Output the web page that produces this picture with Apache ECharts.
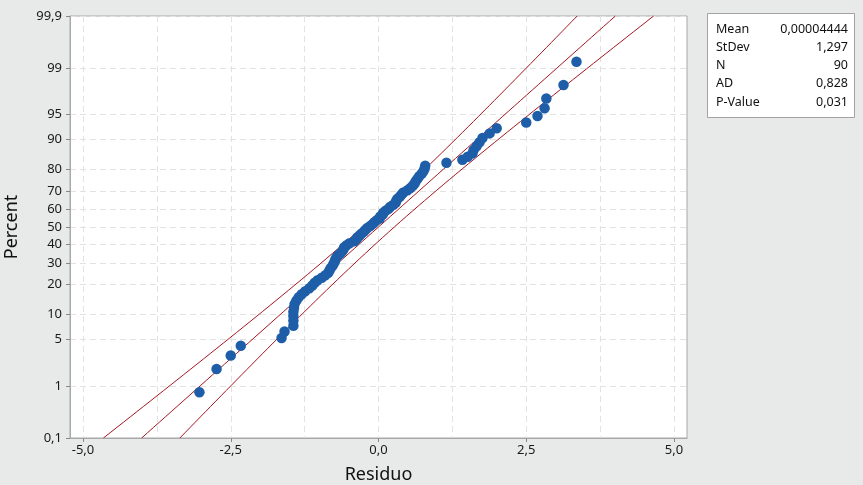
<!DOCTYPE html>
<html>
<head>
<meta charset="utf-8">
<script src="https://cdn.jsdelivr.net/npm/echarts@6/dist/echarts.min.js"></script>
<style>
  html, body { margin: 0; padding: 0; background: #e8e9e9; }
  #chart { width: 863px; height: 485px; }
</style>
</head>
<body>
<div id="chart"></div>
<script>
// residuals, sorted
var residuals = [
    -3.03, -2.74, -2.50, -2.33, -1.64, -1.59, -1.44, -1.44, -1.44, -1.44,
    -1.43, -1.42, -1.39, -1.35, -1.30, -1.24, -1.17, -1.12, -1.08, -1.03,
    -0.96, -0.90, -0.85, -0.83, -0.81, -0.78, -0.76, -0.74, -0.73, -0.71,
    -0.68, -0.64, -0.61, -0.59, -0.58, -0.54, -0.49, -0.41, -0.37, -0.36,
    -0.32, -0.29, -0.25, -0.22, -0.19, -0.14, -0.10, -0.07, -0.03, 0.02,
    0.03, 0.07, 0.08, 0.12, 0.17, 0.20, 0.25, 0.29, 0.30, 0.32,
    0.36, 0.39, 0.42, 0.49, 0.54, 0.58, 0.61, 0.63, 0.66, 0.69,
    0.73, 0.76, 0.78, 0.79, 1.15, 1.42, 1.51, 1.59, 1.61, 1.66,
    1.71, 1.76, 1.88, 2.00, 2.50, 2.69, 2.81, 2.84, 3.13, 3.35
];

var percentTicks = [0.1, 1, 5, 10, 20, 30, 40, 50, 60, 70, 80, 90, 95, 99, 99.9];
var percentLabels = ['0,1', '1', '5', '10', '20', '30', '40', '50', '60', '70', '80', '90', '95', '99', '99,9'];
var xLabelValues = [-5, -2.5, 0, 2.5, 5];
var xLabelTexts = ['-5,0', '-2,5', '0,0', '2,5', '5,0'];
var xGridValues = [-5, -3.75, -2.5, -1.25, 0, 1.25, 2.5, 3.75, 5];

var statLabels = ['Mean', 'StDev', 'N', 'AD', 'P-Value'];
var statValues = ['0,00004444', '1,297', '90', '0,828', '0,031'];
var fitMean = 0.00004444;
var fitStDev = 1.297;
var fitN = 90;

// inverse normal cdf (Acklam)
function normInv(p) {
    var a = [-3.969683028665376e+01, 2.209460984245205e+02, -2.759285104469687e+02, 1.383577518672690e+02, -3.066479806614716e+01, 2.506628277459239e+00];
    var b = [-5.447609879822406e+01, 1.615858368580409e+02, -1.556989798598866e+02, 6.680131188771972e+01, -1.328068155288572e+01];
    var c = [-7.784894002430293e-03, -3.223964580411365e-01, -2.400758277161838e+00, -2.549732539343734e+00, 4.374664141464968e+00, 2.938163982698783e+00];
    var d = [7.784695709041462e-03, 3.224671290700398e-01, 2.445134137142996e+00, 3.754408661907416e+00];
    var q, r;
    if (p < 0.02425) {
        q = Math.sqrt(-2 * Math.log(p));
        return (((((c[0]*q+c[1])*q+c[2])*q+c[3])*q+c[4])*q+c[5]) / ((((d[0]*q+d[1])*q+d[2])*q+d[3])*q+1);
    }
    if (p > 1 - 0.02425) {
        q = Math.sqrt(-2 * Math.log(1 - p));
        return -(((((c[0]*q+c[1])*q+c[2])*q+c[3])*q+c[4])*q+c[5]) / ((((d[0]*q+d[1])*q+d[2])*q+d[3])*q+1);
    }
    q = p - 0.5;
    r = q * q;
    return (((((a[0]*r+a[1])*r+a[2])*r+a[3])*r+a[4])*r+a[5])*q / (((((b[0]*r+b[1])*r+b[2])*r+b[3])*r+b[4])*r+1);
}

var zTicks = percentTicks.map(function (p) { return normInv(p / 100); });
var zMin = zTicks[0];
var zMax = zTicks[zTicks.length - 1];

// median-rank plotting positions
var n = residuals.length;
var points = residuals.map(function (v, i) {
    return [v, normInv((i + 1 - 0.3) / (n + 0.4))];
});

// fitted line and 95% bands
var fitLine = [], lowBand = [], highBand = [];
for (var k = 0; k <= 80; k++) {
    var z = zMin + (zMax - zMin) * k / 80;
    var x = fitMean + fitStDev * z;
    var half = 1.96 * fitStDev * Math.sqrt(1 / fitN + z * z / (2 * (fitN - 1)));
    fitLine.push([x, z]);
    lowBand.push([x - half, z]);
    highBand.push([x + half, z]);
}

var textFont = '"Noto Sans", "DejaVu Sans", sans-serif';

var myChart = echarts.init(document.getElementById('chart'));

var statGraphics = [{
    type: 'rect',
    shape: { x: 707.5, y: 13.5, width: 147, height: 104 },
    style: { fill: '#fff', stroke: '#a3a3a3', lineWidth: 1 }
}];
statLabels.forEach(function (lab, i) {
    statGraphics.push({
        type: 'text', x: 716, y: 29 + i * 18.3,
        style: { text: lab, font: '12.5px ' + textFont, fill: '#111', verticalAlign: 'middle' }
    });
    statGraphics.push({
        type: 'text', x: 848, y: 29 + i * 18.3,
        style: { text: statValues[i], font: '12.5px ' + textFont, fill: '#111', align: 'right', verticalAlign: 'middle' }
    });
});

var option = {
    backgroundColor: '#e8e9e9',
    animation: false,
    grid: {
        left: 70, top: 16, right: 176, bottom: 47,
        outerBoundsMode: 'none', containLabel: false,
        show: true, backgroundColor: '#fff', borderColor: '#a8a8a8', borderWidth: 1
    },
    xAxis: [{
        type: 'value', min: -5.22, max: 5.22,
        name: 'Residuo', nameLocation: 'middle', nameGap: 28,
        nameTextStyle: { fontSize: 18, color: '#111', fontFamily: textFont },
        axisLine: { onZero: false, lineStyle: { color: '#a8a8a8' } },
        axisTick: { customValues: xLabelValues, length: 4, lineStyle: { color: '#888' } },
        axisLabel: {
            customValues: xLabelValues, fontSize: 13, color: '#1a1a1a', fontFamily: textFont, margin: 6,
            formatter: function (v) { return xLabelTexts[xLabelValues.indexOf(v)]; }
        },
        splitLine: { show: false }
    }, {
        type: 'value', min: -5.22, max: 5.22, position: 'bottom',
        axisLine: { show: false, onZero: false },
        axisTick: { show: false, customValues: xGridValues },
        axisLabel: { show: false, customValues: xGridValues },
        splitLine: { show: true, lineStyle: { color: '#e2e2e2', type: [6, 4], width: 1 } }
    }],
    yAxis: {
        type: 'value', min: zMin, max: zMax,
        name: 'Percent', nameLocation: 'middle', nameGap: 49, nameRotate: 90,
        nameTextStyle: { fontSize: 18, color: '#111', fontFamily: textFont },
        axisLine: { show: true, onZero: false, lineStyle: { color: '#a8a8a8' } },
        axisTick: { show: true, customValues: zTicks, length: 4, lineStyle: { color: '#888' } },
        axisLabel: {
            customValues: zTicks, fontSize: 13, color: '#1a1a1a', fontFamily: textFont, margin: 8,
            formatter: function (v) {
                var best = 0;
                for (var i = 1; i < zTicks.length; i++) {
                    if (Math.abs(zTicks[i] - v) < Math.abs(zTicks[best] - v)) best = i;
                }
                return percentLabels[best];
            }
        },
        splitLine: { show: true, lineStyle: { color: '#e2e2e2', type: [6, 4], width: 1 } }
    },
    series: [{
        type: 'line', data: lowBand, symbol: 'none',
        lineStyle: { color: '#a3161f', width: 1 }, z: 2
    }, {
        type: 'line', data: fitLine, symbol: 'none',
        lineStyle: { color: '#a3161f', width: 1 }, z: 2
    }, {
        type: 'line', data: highBand, symbol: 'none',
        lineStyle: { color: '#a3161f', width: 1 }, z: 2
    }, {
        type: 'scatter', data: points, symbol: 'circle', symbolSize: 10.5,
        itemStyle: { color: '#1e5ea9', opacity: 1 }, z: 3
    }],
    graphic: statGraphics
};

myChart.setOption(option);
</script>
</body>
</html>
